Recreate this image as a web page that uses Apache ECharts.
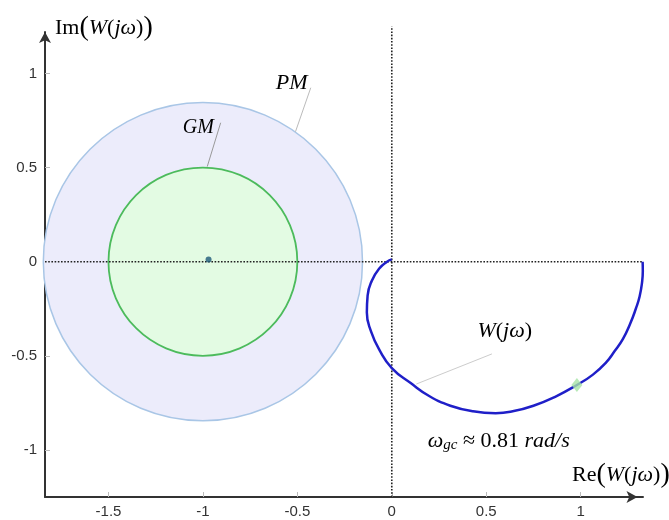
<!DOCTYPE html>
<html><head><meta charset="utf-8">
<script src="https://cdn.jsdelivr.net/npm/echarts@6.0.0/dist/echarts.min.js"></script>
<style>html,body{margin:0;padding:0;background:#fff}#c{width:669px;height:520px}</style>
</head><body><div id="c"></div>
<script>
// ---- data ----
const xTicks = [-1.5, -1, -0.5, 0, 0.5, 1];
const yTicks = [-1, -0.5, 0, 0.5, 1];
const xRange = [-1.836, 1.33];
const yRange = [-1.25, 1.22];

// Nyquist curve W(jw)
const nyqRe = [1.328, 1.329, 1.325, 1.312, 1.292, 1.262, 1.224, 1.18, 1.135, 1.065, 0.98, 0.87, 0.75, 0.64, 0.55, 0.43, 0.31, 0.20, 0.10, 0.0, -0.065, -0.11, -0.132, -0.128, -0.105, -0.065, -0.025, 0.0];
const nyqIm = [0.0, -0.05, -0.11, -0.185, -0.25, -0.33, -0.41, -0.475, -0.535, -0.60, -0.655, -0.715, -0.765, -0.795, -0.805, -0.795, -0.765, -0.715, -0.645, -0.565, -0.47, -0.37, -0.27, -0.18, -0.10, -0.035, 0.0, 0.012];

// margin circles: PM and GM (center x, center y, radius)
const circleNames = ['PM', 'GM'];
const circleCx = [-1, -1];
const circleCy = [0, 0];
const circleR = [0.845, 0.5];

const centerPoint = [-0.97, 0.012];
const gcPoint = [0.98, -0.655];

// dotted reference lines
const hLineX = [-1.836, 1.328], hLineY = [0, 0];
const vLineX = [0, 0], vLineY = [-1.25, 1.25];

// leader lines [x1,y1,x2,y2]
const leaderPM = [-0.429, 0.924, -0.51, 0.69];
const leaderGM = [-0.906, 0.738, -0.977, 0.505];
const leaderW = [0.53, -0.49, 0.13, -0.65];

// annotations
const annoText = ['{i|PM}', '{g|GM}', '{i|W}{r|(}{i|jω}{r|)}', '{i|ω}{s|gc}{r| ≈ 0.81 }{i|rad/s}'];
const annoX = [-0.53, -1.024, 0.598, 0.566];
const annoY = [0.95, 0.711, -0.371, -0.952];

// ---- styles ----
const SERIF = "'Liberation Serif', 'DejaVu Serif', serif";
const SANS = "'Liberation Sans', Arial, sans-serif";
const circleStyles = [
  { fill: '#ececfb', stroke: '#a9c6e6', lineWidth: 1.5 },
  { fill: '#e3fbe3', stroke: '#4cbb5c', lineWidth: 1.8 }
];
const richText = {
  i: { fontFamily: SERIF, fontStyle: 'italic', fontSize: 22, color: '#222', verticalAlign: 'middle' },
  g: { fontFamily: SERIF, fontStyle: 'italic', fontSize: 20, color: '#222', verticalAlign: 'middle' },
  r: { fontFamily: SERIF, fontSize: 22, color: '#222', verticalAlign: 'middle' },
  s: { fontFamily: SERIF, fontStyle: 'italic', fontSize: 15, color: '#222', verticalAlign: 'bottom', padding: [8, 0, 0, 0] },
  p: { fontFamily: SERIF, fontSize: 28, color: '#222', verticalAlign: 'middle' }
};

const pairs = (xs, ys) => xs.map((x, i) => [x, ys[i]]);
const seg = a => [[a[0], a[1]], [a[2], a[3]]];

const chart = echarts.init(document.getElementById('c'), null, { renderer: 'canvas' });
chart.setOption({
  backgroundColor: '#fff',
  animation: false,
  grid: { left: 45, right: 26, top: 32, bottom: 23, containLabel: false },
  xAxis: {
    type: 'value', min: xRange[0], max: xRange[1],
    axisLine: { onZero: false, lineStyle: { color: '#333', width: 2 }, symbol: ['none', 'arrow'], symbolSize: [9, 11], symbolOffset: [0, -5.5] },
    axisTick: { show: true, inside: true, length: 5, customValues: xTicks, lineStyle: { color: '#bbb' } },
    axisLabel: { customValues: xTicks, color: '#333', fontSize: 15, fontFamily: SANS, margin: 7 },
    splitLine: { show: false }
  },
  yAxis: {
    type: 'value', min: yRange[0], max: yRange[1],
    axisLine: { onZero: false, lineStyle: { color: '#333', width: 2 }, symbol: ['none', 'arrow'], symbolSize: [9, 11] },
    axisTick: { show: true, inside: true, length: 5, customValues: yTicks, lineStyle: { color: '#bbb' } },
    axisLabel: { customValues: yTicks, color: '#333', fontSize: 15, fontFamily: SANS, margin: 8 },
    splitLine: { show: false }
  },
  graphic: [
    { type: 'text', left: 55, top: 14, z: 100,
      style: { text: '{r|Im}{p|(}{i|W}{r|(}{i|jω}{r|)}{p|)}', rich: richText } },
    { type: 'text', left: 572, top: 461, z: 100,
      style: { text: '{r|Re}{p|(}{i|W}{r|(}{i|jω}{r|)}{p|)}', rich: richText } }
  ],
  series: [
    { type: 'custom', name: 'margins', silent: true, z: 1,
      data: circleNames.map((n, i) => [circleCx[i], circleCy[i], circleR[i]]),
      renderItem: (params, api) => {
        const c = api.coord([api.value(0), api.value(1)]);
        const s = api.size([api.value(2), api.value(2)]);
        return { type: 'ellipse', shape: { cx: c[0], cy: c[1], rx: s[0], ry: s[1] },
          style: circleStyles[params.dataIndex] };
      }
    },
    { type: 'line', silent: true, z: 3, clip: false, symbol: 'none', data: pairs(hLineX, hLineY),
      lineStyle: { color: '#222', width: 1.6, type: [1.6, 1.6] } },
    { type: 'line', silent: true, z: 3, clip: false, symbol: 'none', data: pairs(vLineX, vLineY),
      lineStyle: { color: '#222', width: 1.6, type: [1.6, 1.6] } },
    { type: 'scatter', silent: true, z: 4, symbolSize: 6, data: [centerPoint], itemStyle: { color: '#1d5a78' } },
    { type: 'line', name: 'W(jω)', silent: true, z: 5, clip: false, symbol: 'none', smooth: 0.5,
      data: pairs(nyqRe, nyqIm), lineStyle: { color: '#1f1fc8', width: 2.5 } },
    { type: 'scatter', silent: true, z: 6, zlevel: 0, symbol: 'diamond', symbolSize: [11, 14], data: [gcPoint],
      itemStyle: { color: '#a6e3a6' } },
    { type: 'line', silent: true, z: 7, symbol: 'none', data: seg(leaderPM), lineStyle: { color: '#bbb', width: 1 } },
    { type: 'line', silent: true, z: 7, symbol: 'none', data: seg(leaderGM), lineStyle: { color: '#999', width: 1 } },
    { type: 'line', silent: true, z: 7, symbol: 'none', data: seg(leaderW), lineStyle: { color: '#ccc', width: 1 } },
    { type: 'custom', silent: true, z: 8, clip: false,
      data: annoText.map((t, i) => [annoX[i], annoY[i]]),
      renderItem: (params, api) => {
        const c = api.coord([api.value(0), api.value(1)]);
        return { type: 'text', x: c[0], y: c[1],
          style: { text: annoText[params.dataIndex], rich: richText, align: 'center', verticalAlign: 'middle' } };
      }
    }
  ]
});
</script></body></html>
